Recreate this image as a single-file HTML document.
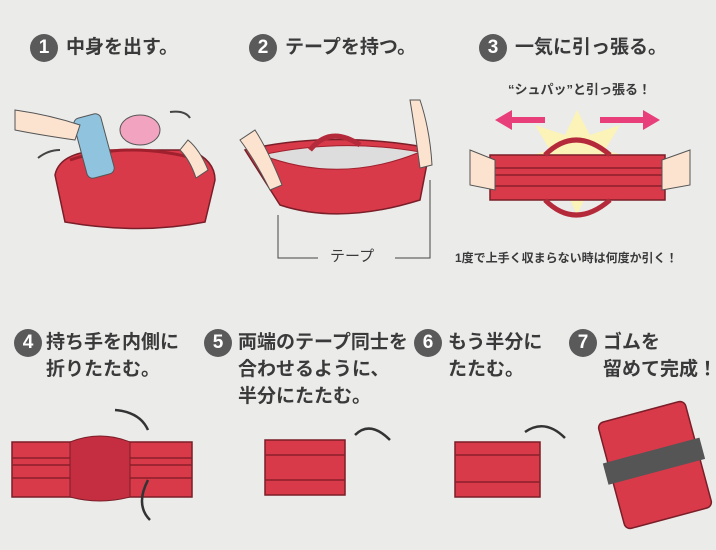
<!DOCTYPE html>
<html><head><meta charset="utf-8">
<style>
html,body{margin:0;padding:0}
body{width:716px;height:550px;background:#ebebea;position:relative;overflow:hidden;font-family:"Liberation Sans","Noto Sans CJK JP",sans-serif;color:#333}
.t{position:absolute;font-size:19px;font-weight:bold;line-height:27px;white-space:nowrap;color:#3a3a3a}
.c{position:absolute;width:28px;height:28px;border-radius:50%;background:#5a5a5a;color:#fff;font-size:19px;font-weight:bold;text-align:center;line-height:28px}
svg{position:absolute;left:0;top:0}
</style></head><body>
<svg width="716" height="550">
 <!-- step1 bag -->
 <path d="M55 175 Q60 150 110 150 L190 150 Q215 160 215 180 L205 222 Q140 235 65 222 Z" fill="#d83a4a" stroke="#7a1e28" stroke-width="1.5"/>
 <path d="M70 160 Q130 140 200 160" fill="none" stroke="#a0202e" stroke-width="3"/>
 <rect x="80" y="115" width="28" height="62" rx="6" fill="#8fc3de" stroke="#555" transform="rotate(-15 94 146)"/>
 <ellipse cx="140" cy="130" rx="20" ry="15" fill="#f2a3bf" stroke="#555"/>
 <path d="M15 110 Q50 115 80 125 L75 140 Q40 135 15 130 Z" fill="#fbe3d0" stroke="#555"/>
 <path d="M188 140 Q200 150 208 170 L196 178 Q190 160 180 150Z" fill="#fbe3d0" stroke="#555"/>
 <path d="M60 150 Q48 150 38 158" fill="none" stroke="#444" stroke-width="2"/>
 <path d="M170 112 Q185 110 190 118" fill="none" stroke="#444" stroke-width="2"/>
 <!-- step2 bag -->
 <path d="M245 150 Q330 130 430 148 L420 200 Q340 225 280 205 Z" fill="#d83a4a" stroke="#7a1e28" stroke-width="1.5"/>
 <path d="M262 155 Q340 138 420 152 Q340 185 262 155Z" fill="#ddd" stroke="#a0202e"/>
 <path d="M310 150 Q330 125 360 145" fill="none" stroke="#b52a3a" stroke-width="5"/>
 <path d="M240 140 Q255 160 270 190 L282 185 Q268 150 255 130Z" fill="#fbe3d0" stroke="#555"/>
 <path d="M420 100 Q430 130 432 165 L420 168 Q415 130 410 100Z" fill="#fbe3d0" stroke="#555"/>
 <path d="M278 215 V258 H318 M430 180 V258 H395" fill="none" stroke="#444" stroke-width="1"/>
 <!-- step3 -->
 <polygon points="577,110 590,135 620,125 605,150 640,160 605,172 620,200 590,188 577,215 565,188 535,200 550,172 515,160 550,150 535,125 565,135" fill="#fbf3b8"/>
 <rect x="490" y="155" width="175" height="45" fill="#d83a4a" stroke="#7a1e28" stroke-width="1.5"/>
 <path d="M490 168 H665 M490 175 H665 M490 186 H665" stroke="#8a1e2a" stroke-width="1.5"/>
 <path d="M545 200 Q575 230 610 200 M545 155 Q575 125 610 155" fill="none" stroke="#b52a3a" stroke-width="5"/>
 <path d="M470 150 L495 160 L495 190 L470 185Z M690 150 L662 160 L662 190 L690 185Z" fill="#fbe3d0" stroke="#555"/>
 <path d="M510 120 H545 M600 120 H645" stroke="#e83f7a" stroke-width="6"/>
 <path d="M495 120 L512 110 L512 130Z M660 120 L643 110 L643 130Z" fill="#e83f7a"/>
 <!-- step4 -->
 <rect x="12" y="442" width="180" height="55" fill="#d83a4a" stroke="#7a1e28" stroke-width="1.5"/>
 <path d="M12 458 H192 M12 465 H192 M12 478 H192" stroke="#8a1e2a" stroke-width="1.5"/>
 <path d="M70 442 Q100 430 130 442 L130 497 Q100 505 70 497Z" fill="#c42e40" stroke="#7a1e28"/>
 <path d="M115 410 Q140 412 148 430 M148 480 Q135 505 150 520" fill="none" stroke="#333" stroke-width="2.5"/>
 <!-- step5 -->
 <rect x="265" y="440" width="80" height="55" fill="#d83a4a" stroke="#7a1e28" stroke-width="1.5"/>
 <path d="M265 455 H345 M265 480 H345" stroke="#8a1e2a" stroke-width="1.5"/>
 <path d="M355 435 Q370 420 390 440" fill="none" stroke="#333" stroke-width="2.5"/>
 <!-- step6 -->
 <rect x="455" y="442" width="85" height="55" fill="#d83a4a" stroke="#7a1e28" stroke-width="1.5"/>
 <path d="M455 455 H540 M455 482 H540" stroke="#8a1e2a" stroke-width="1.5"/>
 <path d="M525 432 Q545 418 565 438" fill="none" stroke="#333" stroke-width="2.5"/>
 <!-- step7 -->
 <g transform="rotate(-15 655 465)">
  <rect x="610" y="410" width="90" height="110" rx="6" fill="#d83a4a" stroke="#7a1e28" stroke-width="1.5"/>
  <rect x="605" y="450" width="100" height="22" fill="#555"/>
 </g>
</svg>
<div class="c" style="left:30px;top:34px">1</div><div class="t" style="left:66px;top:34px">中身を出す。</div>
<div class="c" style="left:249px;top:34px">2</div><div class="t" style="left:285px;top:34px">テープを持つ。</div>
<div class="c" style="left:479px;top:34px">3</div><div class="t" style="left:515px;top:34px">一気に引っ張る。</div>
<div class="t" style="left:508px;top:76px;font-size:13px">“シュパッ”と引っ張る！</div>
<div class="t" style="left:330px;top:243px;font-size:15px;font-weight:normal">テープ</div>
<div class="t" style="left:455px;top:245px;font-size:12px">1度で上手く収まらない時は何度か引く！</div>
<div class="c" style="left:14px;top:329px">4</div><div class="t" style="left:46px;top:329px">持ち手を内側に<br>折りたたむ。</div>
<div class="c" style="left:204px;top:329px">5</div><div class="t" style="left:238px;top:329px">両端のテープ同士を<br>合わせるように、<br>半分にたたむ。</div>
<div class="c" style="left:414px;top:329px">6</div><div class="t" style="left:448px;top:329px">もう半分に<br>たたむ。</div>
<div class="c" style="left:569px;top:329px">7</div><div class="t" style="left:603px;top:329px">ゴムを<br>留めて完成！</div>
</body></html>
